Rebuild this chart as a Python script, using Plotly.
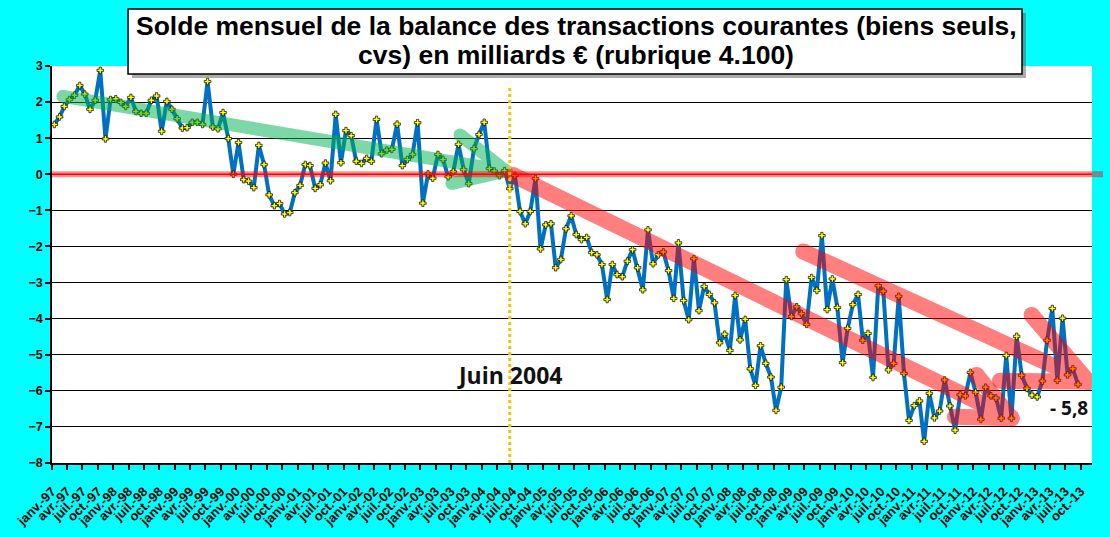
import pandas as pd
import plotly.graph_objects as go

# ---------------- data ----------------
start_month = "1997-01-01"
values = [
    1.38, 1.59, 1.88, 2.07, 2.19, 2.46, 2.22, 1.80, 2.05, 2.88, 0.98, 2.07,   # 1997
    2.09, 1.99, 1.88, 2.13, 1.74, 1.69, 1.69, 2.05, 2.17, 1.19, 2.02, 1.80,   # 1998
    1.54, 1.28, 1.29, 1.44, 1.44, 1.38, 2.57, 1.31, 1.26, 1.71, 0.99, 0.00,   # 1999
    0.88, -0.15, -0.19, -0.37, 0.80, 0.27, -0.57, -0.87, -0.81, -1.10, -1.06, -0.51,  # 2000
    -0.31, 0.27, 0.24, -0.39, -0.29, 0.31, -0.18, 1.66, 0.32, 1.21, 1.07, 0.36,  # 2001
    0.30, 0.44, 0.36, 1.52, 0.57, 0.67, 0.69, 1.39, 0.24, 0.41, 0.55, 1.43,   # 2002
    -0.80, 0.01, -0.11, 0.55, 0.41, -0.07, 0.07, 0.83, 0.13, -0.26, 0.71, 1.10,  # 2003
    1.44, 0.16, 0.09, -0.04, 0.10, -0.40, -0.03, -1.03, -1.37, -1.03, -0.12, -2.07,  # 2004
    -1.40, -1.37, -2.59, -2.36, -1.51, -1.15, -1.67, -1.81, -1.75, -2.17, -2.23, -2.50,  # 2005
    -3.47, -2.50, -2.78, -2.84, -2.41, -2.09, -2.59, -3.20, -1.54, -2.48, -2.23, -2.15,  # 2006
    -2.67, -3.44, -1.90, -3.50, -4.03, -2.34, -3.78, -3.11, -3.33, -3.56, -4.67, -4.43,  # 2007
    -4.88, -3.36, -4.59, -4.02, -5.39, -5.85, -4.75, -5.24, -5.62, -6.54, -5.90, -2.92,  # 2008
    -3.94, -3.67, -3.86, -4.16, -2.86, -3.22, -1.70, -3.75, -2.90, -3.69, -5.22, -4.27,  # 2009
    -3.61, -3.33, -4.60, -4.41, -5.63, -3.09, -3.24, -5.42, -5.24, -3.38, -5.52, -6.82,  # 2010
    -6.41, -6.28, -7.40, -6.07, -6.75, -6.56, -5.70, -6.42, -7.09, -6.11, -6.14, -5.49,  # 2011
    -6.04, -6.79, -5.90, -6.14, -6.20, -6.76, -5.02, -6.76, -4.49, -5.57, -5.93, -6.12,  # 2012
    -6.17, -5.73, -4.60, -3.72, -5.71, -3.99, -5.56, -5.39, -5.82,            # 2013 (janv.-sept.)
]
month_abbr = ["janv.", "avr.", "juil.", "oct."]
tick_months = [1, 4, 7, 10]
years = list(range(1997, 2014))

marker_date = "2004-06-15"
marker_label = "Juin 2004"
last_label = "- 5,8"

# trend arrows (date, value): shaft start, tip, arm 1 start, arm 2 start
green_arrow = {"start": ("1997-03-07", 2.16), "tip": ("2004-05-23", 0.09),
               "arm1": ("2003-08-24", 1.09), "arm2": ("2003-07-07", -0.25)}
red_arrow_main = {"start": ("2004-07-04", -0.02), "tip": ("2012-08-16", -6.76),
                  "arm1": ("2012-01-21", -5.56), "arm2": ("2011-09-14", -6.72)}
red_arrow_upper = {"start": ("2009-03-26", -2.14), "tip": ("2013-11-15", -5.75),
                   "arm1": ("2012-12-13", -3.90), "arm2": ("2012-06-08", -5.72)}

title_line1 = "Solde mensuel de la balance des transactions courantes (biens seuls,"
title_line2 = "cvs) en milliards € (rubrique 4.100)"

# ---------------- derived ----------------
dates = pd.date_range(start_month, periods=len(values), freq="MS") + pd.Timedelta(days=14)
tickvals, ticktext = [], []
for y in years:
    for m, ab in zip(tick_months, month_abbr):
        if y == 2013 and m > 10:
            continue
        tickvals.append(f"{y}-{m:02d}-01")
        ticktext.append(f"{ab}-{y % 100:02d}")

FONT = "Liberation Sans, Arial, sans-serif"

fig = go.Figure()

fig.add_trace(go.Scatter(
    x=dates, y=values, mode="lines+markers",
    line=dict(color="#0070C0", width=4),
    marker=dict(symbol="cross", size=5.5, color="#FFFF00",
                line=dict(color="#000000", width=0.7)),
    hoverinfo="skip", showlegend=False,
))


def arrow_trace(a, color, width):
    xs, ys = [], []
    for seg in ("start", "arm1", "arm2"):
        xs += [a[seg][0], a["tip"][0], None]
        ys += [a[seg][1], a["tip"][1], None]
    return go.Scatter(
        x=xs, y=ys, mode="lines+markers",
        line=dict(color=color, width=width),
        marker=dict(symbol="circle", size=width, color=color, line=dict(width=0)),
        opacity=0.5, hoverinfo="skip", showlegend=False,
    )


fig.add_trace(arrow_trace(green_arrow, "#00B050", 13))
fig.add_trace(arrow_trace(red_arrow_main, "#FF0000", 16))
fig.add_trace(arrow_trace(red_arrow_upper, "#FF0000", 16))

shapes = [
    # zero line (glow + line)
    dict(type="line", xref="paper", yref="y", x0=0, x1=1.0106, y0=0, y1=0,
         line=dict(color="rgba(255,0,0,0.45)", width=6), layer="above"),
    dict(type="line", xref="paper", yref="y", x0=0, x1=1, y0=0, y1=0,
         line=dict(color="#FF0000", width=1.5), layer="above"),
    # June 2004 marker line
    dict(type="line", xref="x", yref="y", x0=marker_date, x1=marker_date, y0=-8, y1=2.39,
         line=dict(color="#FFC000", width=3, dash="dot"), layer="above"),
    # title box shadow + box
    dict(type="rect", xref="paper", yref="paper", x0=0.0769, x1=0.9365, y0=0.9698, y1=1.1335,
         fillcolor="rgba(90,90,90,0.5)", line=dict(width=0), layer="above"),
    dict(type="rect", xref="paper", yref="paper", x0=0.0731, x1=0.9327, y0=0.9798, y1=1.1436,
         fillcolor="white", line=dict(color="black", width=1.5), layer="above"),
]

annotations = [
    dict(text=title_line1, xref="paper", yref="paper", x=0.504, y=1.1008,
         xanchor="center", yanchor="middle", showarrow=False,
         font=dict(family=FONT, size=26.5, color="black", weight="bold")),
    dict(text=title_line2, xref="paper", yref="paper", x=0.504, y=1.0277,
         xanchor="center", yanchor="middle", showarrow=False,
         font=dict(family=FONT, size=26.5, color="black", weight="bold")),
    dict(text=marker_label, xref="x", yref="y", x=marker_date, y=-5.56,
         xanchor="center", yanchor="middle", showarrow=False,
         font=dict(family="Open Sans, sans-serif", size=23, color="#111111", weight="bold")),
    dict(text=last_label, xref="x", yref="y", x="2013-11-25", y=-6.48,
         xanchor="right", yanchor="middle", showarrow=False,
         font=dict(family="Open Sans, sans-serif", size=19, color="#111111", weight="bold")),
]

fig.update_layout(
    width=1110, height=537,
    margin=dict(l=52, r=18, t=66, b=74),
    paper_bgcolor="#00FFFF", plot_bgcolor="white",
    showlegend=False,
    shapes=shapes, annotations=annotations,
    xaxis=dict(
        type="date", range=["1997-01-01", "2013-12-07"], automargin=False,
        tickmode="array", tickvals=tickvals, ticktext=ticktext, tickangle=-45,
        ticks="outside", ticklen=5, tickwidth=1.5, tickcolor="black",
        ticklabelstandoff=9,
        showline=True, linecolor="black", linewidth=1.5,
        showgrid=False, zeroline=False,
        tickfont=dict(family=FONT, size=13, color="black", weight="bold"),
    ),
    yaxis=dict(
        range=[-8, 3], tick0=0, dtick=1, automargin=False,
        ticks="outside", ticklen=5, tickwidth=1.5, tickcolor="black",
        showline=True, linecolor="black", linewidth=1.5,
        showgrid=True, gridcolor="black", gridwidth=1, zeroline=False,
        tickfont=dict(family=FONT, size=12.5, color="black", weight="bold"),
    ),
)

fig.write_html("out.html", config={"displayModeBar": False},
               post_script="document.body.style.margin='0px';")
